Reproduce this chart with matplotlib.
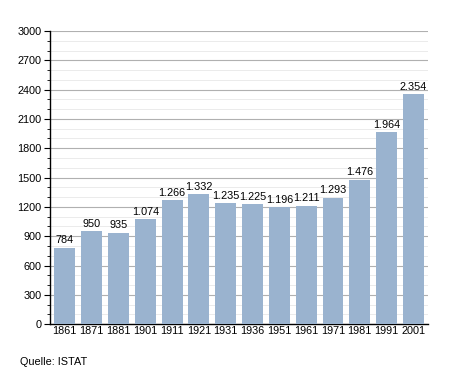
import numpy as np
import matplotlib.pyplot as plt
from matplotlib.ticker import MultipleLocator

plt.rcParams['font.family'] = ['Liberation Sans', 'DejaVu Sans']

years = ['1861', '1871', '1881', '1901', '1911', '1921', '1931', '1936',
         '1951', '1961', '1971', '1981', '1991', '2001']
population = [784, 950, 935, 1074, 1266, 1332, 1235, 1225, 1196, 1211,
              1293, 1476, 1964, 2354]

fig = plt.figure(figsize=(4.55, 3.73), dpi=100)
ax = fig.add_axes([0.110, 0.131, 0.831, 0.786])

x = np.arange(len(years))
ax.bar(x, population, width=0.78, color='#9ab3cf', zorder=3)

for xi, v in zip(x, population):
    label = f'{v:,}'.replace(',', '.')
    ax.text(xi, v + 25, label, ha='center', va='bottom', fontsize=7.8, zorder=4)

ax.set_xlim(-0.55, len(years) - 0.45)
ax.set_ylim(0, 3000)
ax.yaxis.set_major_locator(MultipleLocator(300))
ax.yaxis.set_minor_locator(MultipleLocator(100))
ax.grid(axis='y', which='major', color='#b0b0b0', linewidth=0.8, zorder=0)
ax.grid(axis='y', which='minor', color='#e8e8e8', linewidth=0.6, zorder=0)

ax.set_xticks(x)
ax.set_xticklabels(years)
ax.tick_params(axis='x', length=0, labelsize=7.8, pad=1.5)
ax.tick_params(axis='y', which='major', length=4, width=0.8, labelsize=7.8, pad=2)
ax.tick_params(axis='y', which='minor', length=2, width=0.6)

for s in ['top', 'right']:
    ax.spines[s].set_visible(False)
ax.spines['left'].set_linewidth(1)
ax.spines['bottom'].set_linewidth(1)

fig.text(20 / 455, 1 - 362 / 373, 'Quelle: ISTAT', fontsize=7.8, va='center', ha='left')

fig.savefig('out.png', dpi=100)
